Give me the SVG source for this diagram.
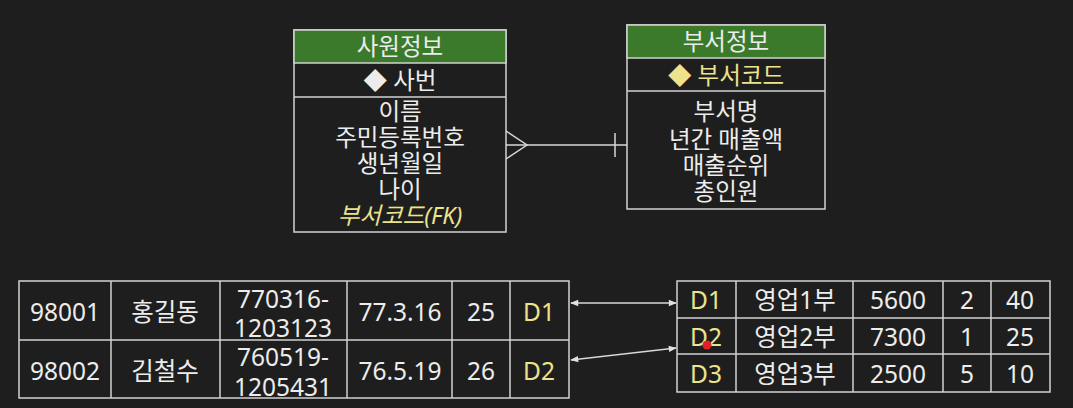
<svg xmlns="http://www.w3.org/2000/svg" width="1073" height="408" viewBox="0 0 1073 408">
<defs>
<style>
.bg{fill:#1e1e1e}
.box{fill:#1e1e1e;stroke:#d2d2d2;stroke-width:1.5}
.hdr{fill:#3b7a2a;stroke:#d2d2d2;stroke-width:1.5}
.ln{stroke:#d2d2d2;stroke-width:1.5;fill:none}
text{font-family:"Noto Sans","Noto Sans CJK KR",sans-serif;text-anchor:middle;dominant-baseline:central;fill:#ececec}
.e{font-size:23.5px}
.t{font-size:24.5px}
.y{fill:#ece38c}
.fk{fill:#ece38c;font-style:italic}
.conn{stroke:#d8d8d8;stroke-width:1.5;fill:none}
</style>
<marker id="ah" viewBox="0 0 10 10" refX="9" refY="5" markerWidth="9" markerHeight="8" orient="auto-start-reverse" markerUnits="userSpaceOnUse">
<path d="M0,1 L10,5 L0,9 Z" fill="#e0e0e0"/>
</marker>
</defs>
<rect class="bg" x="0" y="0" width="1073" height="408"/>

<g id="emp-entity">
<rect class="box" x="294" y="30" width="212" height="202"/>
<rect class="hdr" x="294" y="30" width="212" height="33"/>
<line class="ln" x1="294" y1="97" x2="506" y2="97"/>
<text class="e" x="400" y="46">사원정보</text>
<text class="e" x="400" y="80">◆ 사번</text>
<text class="e" x="400" y="111">이름</text>
<text class="e" x="400" y="137">주민등록번호</text>
<text class="e" x="400" y="163">생년월일</text>
<text class="e" x="400" y="189">나이</text>
<text class="e fk" x="400" y="215">부서코드(FK)</text>
</g>

<g id="dept-entity">
<rect class="box" x="627" y="25" width="198" height="184"/>
<rect class="hdr" x="627" y="25" width="198" height="33"/>
<line class="ln" x1="627" y1="91" x2="825" y2="91"/>
<text class="e" x="726" y="41">부서정보</text>
<text class="e y" x="726" y="75">◆ 부서코드</text>
<text class="e" x="726" y="111">부서명</text>
<text class="e" x="726" y="139">년간 매출액</text>
<text class="e" x="726" y="165">매출순위</text>
<text class="e" x="726" y="191">총인원</text>
</g>

<g id="emp-table">
<rect class="box" x="19" y="281" width="550" height="117"/>
<line class="ln" x1="19" y1="340" x2="569" y2="340"/>
<line class="ln" x1="111" y1="281" x2="111" y2="398"/>
<line class="ln" x1="220" y1="281" x2="220" y2="398"/>
<line class="ln" x1="347" y1="281" x2="347" y2="398"/>
<line class="ln" x1="452" y1="281" x2="452" y2="398"/>
<line class="ln" x1="510" y1="281" x2="510" y2="398"/>
<text class="t" x="65" y="311">98001</text>
<text class="t" x="165" y="311">홍길동</text>
<text class="t" x="283" y="298">770316-</text>
<text class="t" x="283" y="327">1203123</text>
<text class="t" x="400" y="311">77.3.16</text>
<text class="t" x="481" y="311">25</text>
<text class="t y" x="539" y="311">D1</text>
<text class="t" x="65" y="370">98002</text>
<text class="t" x="165" y="370">김철수</text>
<text class="t" x="283" y="356">760519-</text>
<text class="t" x="283" y="386">1205431</text>
<text class="t" x="400" y="370">76.5.19</text>
<text class="t" x="481" y="370">26</text>
<text class="t y" x="539" y="370">D2</text>
</g>

<g id="dept-table">
<rect class="box" x="677" y="281" width="373" height="111"/>
<line class="ln" x1="677" y1="318" x2="1050" y2="318"/>
<line class="ln" x1="677" y1="354" x2="1050" y2="354"/>
<line class="ln" x1="736" y1="281" x2="736" y2="392"/>
<line class="ln" x1="853" y1="281" x2="853" y2="392"/>
<line class="ln" x1="943" y1="281" x2="943" y2="392"/>
<line class="ln" x1="991" y1="281" x2="991" y2="392"/>
<text class="t y" x="706" y="299">D1</text>
<text class="t" x="795" y="299">영업1부</text>
<text class="t" x="898" y="299">5600</text>
<text class="t" x="967" y="299">2</text>
<text class="t" x="1020" y="299">40</text>
<text class="t y" x="706" y="336">D2</text>
<text class="t" x="795" y="336">영업2부</text>
<text class="t" x="898" y="336">7300</text>
<text class="t" x="967" y="336">1</text>
<text class="t" x="1020" y="336">25</text>
<text class="t y" x="706" y="373">D3</text>
<text class="t" x="795" y="373">영업3부</text>
<text class="t" x="898" y="373">2500</text>
<text class="t" x="967" y="373">5</text>
<text class="t" x="1020" y="373">10</text>
<circle cx="707" cy="345" r="4.5" fill="#e0202a"/>
</g>

<g id="connectors">
<polyline class="conn" points="506,131 527,145 506,159"/>
<line class="conn" x1="506" y1="145" x2="627" y2="145"/>
<line class="conn" x1="615" y1="133" x2="615" y2="157"/>
<line class="conn" x1="571" y1="303" x2="676" y2="303" marker-start="url(#ah)" marker-end="url(#ah)"/>
<line class="conn" x1="571" y1="360" x2="676" y2="348" marker-start="url(#ah)" marker-end="url(#ah)"/>
</g>
</svg>
